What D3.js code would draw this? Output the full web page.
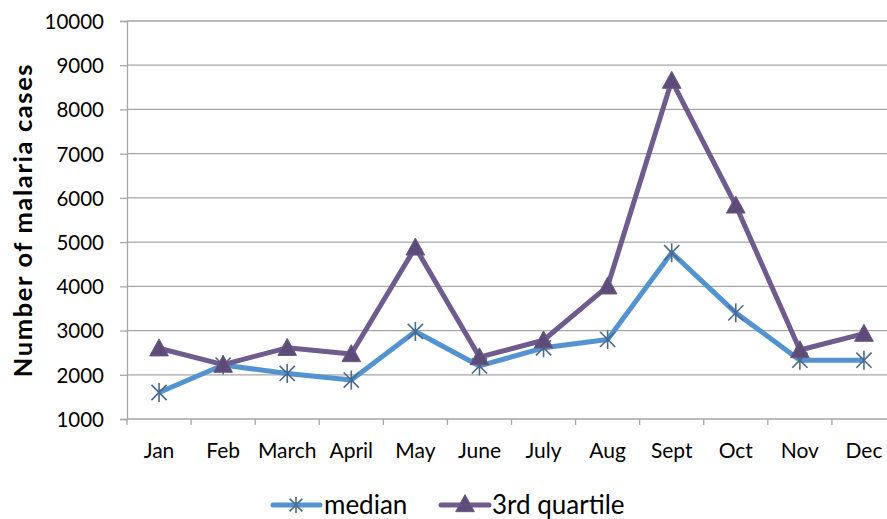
<!DOCTYPE html>
<html>
<head>
<meta charset="utf-8">
<script src="https://cdn.jsdelivr.net/npm/d3@7/dist/d3.min.js"></script>
<style>
  html, body { margin: 0; padding: 0; background: #fff; }
  svg { display: block; }
  text { font-family: Lato, "Open Sans", "Liberation Sans", sans-serif; fill: #000; }
</style>
</head>
<body>
<svg id="chart" width="887" height="519"></svg>
<script>
// Monthly malaria cases
const months = ["Jan", "Feb", "March", "April", "May", "June", "July", "Aug", "Sept", "Oct", "Nov", "Dec"];
const median = [1600, 2220, 2030, 1880, 2980, 2200, 2610, 2800, 4760, 3400, 2330, 2330];
const thirdQuartile = [2600, 2230, 2610, 2470, 4880, 2400, 2780, 4000, 8650, 5830, 2560, 2930];
const yTicks = [1000, 2000, 3000, 4000, 5000, 6000, 7000, 8000, 9000, 10000];
const seriesNames = ["median", "3rd quartile"];

const svg = d3.select("#chart");
const plotLeft = 127, plotRight = 896, plotTop = 21, plotBottom = 419;

const x = d3.scaleBand().domain(months).range([plotLeft, plotRight]);
const y = d3.scaleLinear().domain([1000, 10000]).range([plotBottom, plotTop]);

const gridColor = "#a6a6a6";

// horizontal gridlines
svg.append("g").selectAll("line").data(yTicks.filter(d => d > 1000)).join("line")
  .attr("x1", plotLeft).attr("x2", 887)
  .attr("y1", d => y(d)).attr("y2", d => y(d))
  .attr("stroke", gridColor).attr("stroke-width", 1.3);

// y axis
const yAxis = svg.append("g").attr("transform", `translate(${plotLeft},0)`)
  .call(d3.axisLeft(y).tickValues(yTicks).tickSize(7).tickPadding(16).tickFormat(d3.format("d")));
yAxis.select(".domain").attr("stroke", gridColor).attr("stroke-width", 1.3);
yAxis.selectAll(".tick line").attr("stroke", gridColor).attr("stroke-width", 1.3);
yAxis.selectAll(".tick text").attr("font-size", 20.5).attr("dy", "0.36em")
  .style("font-family", "Lato, sans-serif");

// x axis with ticks at category boundaries
const xg = svg.append("g");
xg.append("line").attr("x1", plotLeft).attr("x2", 887).attr("y1", plotBottom).attr("y2", plotBottom)
  .attr("stroke", gridColor).attr("stroke-width", 1.3);
const bounds = months.map(m => x(m)).concat([x(months[months.length - 1]) + x.bandwidth()]);
xg.selectAll("line.tk").data(bounds).join("line").attr("class", "tk")
  .attr("x1", d => d).attr("x2", d => d).attr("y1", plotBottom).attr("y2", plotBottom + 6)
  .attr("stroke", gridColor).attr("stroke-width", 1.3);
xg.selectAll("text").data(months).join("text")
  .attr("x", d => x(d) + x.bandwidth() / 2).attr("y", 458)
  .attr("text-anchor", "middle").attr("font-size", 21).text(d => d);

// y axis title
svg.append("text")
  .attr("transform", `translate(32,220) rotate(-90)`)
  .attr("text-anchor", "middle").attr("font-size", 25.5).attr("font-weight", "bold")
  .attr("letter-spacing", 1.6)
  .text("Number of malaria cases");

const cx = d => x(d) + x.bandwidth() / 2;
const blue = "#5393cf", purple = "#705b8e";
const starColor = "#4b6a8c", triFill = "#5d4c78";

const line = d3.line().x((d, i) => cx(months[i])).y(d => y(d));

function star(g, px, py, r) {
  const s = g.append("g").attr("transform", `translate(${px},${py})`)
    .attr("stroke", starColor).attr("stroke-width", 1.6).attr("fill", "none");
  s.append("line").attr("x1", 0).attr("y1", -r).attr("x2", 0).attr("y2", r);
  const a = r * 0.8;
  s.append("line").attr("x1", -a).attr("y1", -a).attr("x2", a).attr("y2", a);
  s.append("line").attr("x1", -a).attr("y1", a).attr("x2", a).attr("y2", -a);
}
function tri(g, px, py, s) {
  g.append("path")
    .attr("d", `M${px},${py - s * 0.55} L${px + s * 0.55},${py + s * 0.45} L${px - s * 0.55},${py + s * 0.45} Z`)
    .attr("fill", triFill).attr("stroke", "#6a5a86").attr("stroke-width", 1);
}

// median series
svg.append("path").datum(median).attr("d", line)
  .attr("fill", "none").attr("stroke", blue).attr("stroke-width", 5).attr("stroke-linejoin", "round");
const gm = svg.append("g");
median.forEach((v, i) => star(gm, cx(months[i]), y(v), 9.5));

// 3rd quartile series
svg.append("path").datum(thirdQuartile).attr("d", line)
  .attr("fill", "none").attr("stroke", purple).attr("stroke-width", 5).attr("stroke-linejoin", "round");
const gq = svg.append("g");
thirdQuartile.forEach((v, i) => tri(gq, cx(months[i]), y(v), 17));

// legend
const lg = svg.append("g");
const ly = 505;
lg.append("line").attr("x1", 273).attr("x2", 320).attr("y1", ly).attr("y2", ly)
  .attr("stroke", blue).attr("stroke-width", 5).attr("stroke-linecap", "round");
star(lg, 296, ly, 8);
lg.append("text").attr("x", 324).attr("y", 514).attr("font-size", 26).text(seriesNames[0]);
lg.append("line").attr("x1", 441).attr("x2", 489).attr("y1", ly).attr("y2", ly)
  .attr("stroke", purple).attr("stroke-width", 5).attr("stroke-linecap", "round");
tri(lg, 465, ly - 1, 17);
lg.append("text").attr("x", 492).attr("y", 514).attr("font-size", 26).text(seriesNames[1]);
</script>
</body>
</html>
